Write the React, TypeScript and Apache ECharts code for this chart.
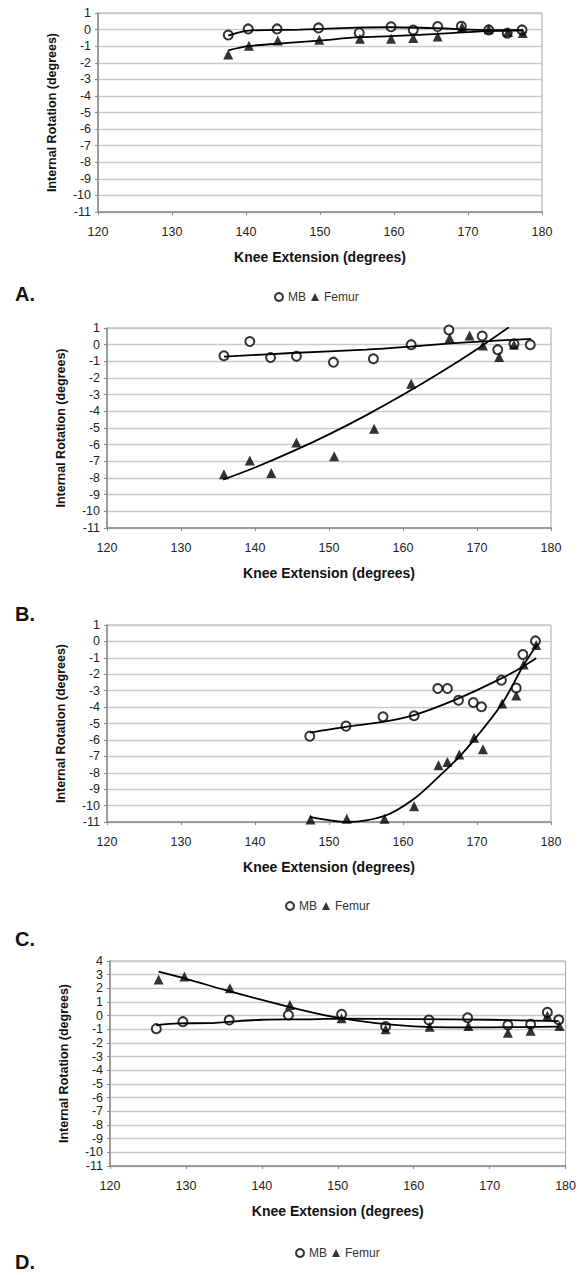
import React, { useEffect, useRef } from "react";
import * as echarts from "echarts";

// ---- Data (x = knee extension deg, y = internal rotation deg) ----
const A_MB: [number, number][] = [[137.6,-0.33],[140.3,0.04],[144.2,0.04],[149.8,0.1],[155.3,-0.2],[159.6,0.17],[162.6,-0.03],[165.9,0.18],[169.1,0.2],[172.8,-0.02],[175.3,-0.22],[177.3,-0.02]];
const A_FEMUR: [number, number][] = [[137.6,-1.5],[140.4,-0.98],[144.3,-0.66],[149.9,-0.62],[155.4,-0.55],[159.6,-0.55],[162.6,-0.5],[165.9,-0.42],[169.2,0.15],[172.8,0.02],[175.4,-0.15],[177.4,-0.2]];
const A_MB_TREND: [number, number][] = [[137.6,-0.36],[140.3,-0.06],[147.3,0.0],[155.0,0.12],[159.5,0.14],[165.8,0.08],[173.0,-0.04],[177.3,-0.04]];
const A_FEMUR_TREND: [number, number][] = [[137.6,-1.25],[140.3,-1.0],[144.3,-0.85],[149.9,-0.66],[155.4,-0.46],[159.5,-0.4],[165.9,-0.26],[173.0,-0.08],[177.4,-0.05]];

const B_MB: [number, number][] = [[135.8,-0.67],[139.3,0.19],[142.1,-0.77],[145.6,-0.7],[150.6,-1.05],[156.0,-0.85],[161.1,0.0],[166.2,0.88],[170.7,0.52],[172.8,-0.3],[175.0,0.05],[177.2,0.0]];
const B_FEMUR: [number, number][] = [[135.8,-7.77],[139.3,-6.95],[142.2,-7.7],[145.6,-5.87],[150.7,-6.7],[156.1,-5.05],[161.1,-2.35],[166.3,0.4],[169.0,0.55],[170.8,-0.05],[173.0,-0.74],[175.0,0.0]];
const B_MB_TREND: [number, number][] = [[135.8,-0.72],[145.0,-0.5],[155.0,-0.3],[161.0,-0.12],[166.0,0.06],[171.0,0.2],[177.3,0.35]];
const B_FEMUR_TREND: [number, number][] = [[135.7,-8.1],[140.0,-7.37],[145.0,-6.42],[150.0,-5.38],[155.0,-4.24],[160.0,-3.01],[165.0,-1.69],[170.0,-0.27],[174.3,1.04]];

const C_MB: [number, number][] = [[147.4,-5.77],[152.3,-5.16],[157.3,-4.59],[161.5,-4.53],[164.7,-2.87],[166.0,-2.87],[167.5,-3.58],[169.5,-3.72],[170.6,-3.98],[173.3,-2.36],[175.3,-2.84],[176.2,-0.8],[177.9,0.03]];
const C_FEMUR: [number, number][] = [[147.5,-10.85],[152.4,-10.8],[157.5,-10.8],[161.5,-10.04],[164.8,-7.54],[166.0,-7.34],[167.6,-6.89],[169.6,-5.87],[170.8,-6.57],[173.4,-3.78],[175.3,-3.3],[176.3,-1.4],[178.0,-0.22]];
const C_MB_TREND: [number, number][] = [[147.4,-5.55],[152.3,-5.2],[157.3,-4.9],[161.5,-4.49],[167.5,-3.47],[173.3,-2.25],[176.2,-1.54],[178.0,-1.03]];
const C_FEMUR_TREND: [number, number][] = [[147.4,-10.69],[152.4,-11.0],[157.5,-10.63],[161.5,-9.58],[164.8,-8.25],[167.6,-7.03],[169.6,-6.0],[173.4,-3.78],[176.3,-1.44],[178.1,-0.22]];

const D_MB: [number, number][] = [[126.1,-0.95],[129.6,-0.44],[135.7,-0.32],[143.5,0.05],[150.5,0.1],[156.3,-0.8],[162.0,-0.32],[167.1,-0.15],[172.4,-0.68],[175.4,-0.63],[177.6,0.24],[179.1,-0.3]];
const D_FEMUR: [number, number][] = [[126.4,2.65],[129.8,2.87],[135.8,2.0],[143.7,0.78],[150.5,-0.19],[156.3,-1.0],[162.1,-0.82],[167.2,-0.75],[172.4,-1.25],[175.4,-1.1],[177.6,0.0],[179.2,-0.75]];
const D_MB_TREND: [number, number][] = [[126.1,-0.7],[129.0,-0.56],[133.3,-0.55],[135.6,-0.45],[140.0,-0.3],[145.7,-0.27],[150.0,-0.22],[160.0,-0.25],[170.0,-0.3],[179.1,-0.4]];
const D_FEMUR_TREND: [number, number][] = [[126.4,3.22],[130.0,2.7],[135.0,1.9],[140.0,1.15],[145.0,0.45],[150.0,-0.15],[155.0,-0.55],[160.0,-0.78],[165.0,-0.85],[170.0,-0.85],[179.2,-0.8]];

const PANEL_LABELS = ["A.", "B.", "C.", "D."];
const X_MIN = 120;
const X_MAX = 180;
const X_INTERVAL = 10;
const Y_MIN = -11;
const Y_MAX_ABC = 1;
const Y_MAX_D = 4;
const X_TITLE = "Knee Extension (degrees)";
const Y_TITLE = "Internal Rotation (degrees)";
const SERIES_NAMES = ["MB", "Femur"];

const FONT = "'Liberation Sans', Arial, Helvetica, sans-serif";

export default function App() {
  const ref = useRef<HTMLDivElement>(null);

  useEffect(() => {
    if (!ref.current) return;
    const chart = echarts.init(ref.current, undefined, { renderer: "svg" });

    const panels = [
      { mb: A_MB, femur: A_FEMUR, mbT: A_MB_TREND, feT: A_FEMUR_TREND, yMax: Y_MAX_ABC,
        grid: { left: 98, top: 13, width: 444, height: 199 }, legendLeft: 274, legendTop: 291, labelY: 295, legend: true },
      { mb: B_MB, femur: B_FEMUR, mbT: B_MB_TREND, feT: B_FEMUR_TREND, yMax: Y_MAX_ABC,
        grid: { left: 107, top: 328, width: 444, height: 200 }, legendLeft: 0, legendTop: 0, labelY: 615, legend: false },
      { mb: C_MB, femur: C_FEMUR, mbT: C_MB_TREND, feT: C_FEMUR_TREND, yMax: Y_MAX_ABC,
        grid: { left: 107, top: 625, width: 444, height: 197 }, legendLeft: 285, legendTop: 900, labelY: 940, legend: true },
      { mb: D_MB, femur: D_FEMUR, mbT: D_MB_TREND, feT: D_FEMUR_TREND, yMax: Y_MAX_D,
        grid: { left: 110, top: 961, width: 456, height: 205 }, legendLeft: 295, legendTop: 1247, labelY: 1263, legend: true },
    ];

    const grids: any[] = [];
    const xAxes: any[] = [];
    const yAxes: any[] = [];
    const series: any[] = [];
    const legends: any[] = [];
    const graphics: any[] = [];

    panels.forEach((p, i) => {
      grids.push({
        ...p.grid,
        show: true,
        borderColor: "#a6a6a6",
        borderWidth: 1,
        backgroundColor: "#ffffff",
      });
      xAxes.push({
        type: "value",
        gridIndex: i,
        min: X_MIN,
        max: X_MAX,
        interval: X_INTERVAL,
        name: X_TITLE,
        nameLocation: "middle",
        nameGap: 38,
        nameTextStyle: { fontFamily: FONT, fontWeight: "bold", fontSize: 14, color: "#111" },
        axisLine: { show: true, onZero: false, lineStyle: { color: "#8a8a8a", width: 1.5 } },
        axisTick: { show: true, length: 3, inside: false, lineStyle: { color: "#8a8a8a" } },
        axisLabel: { fontFamily: FONT, fontSize: 12.5, color: "#222", margin: 13 },
        splitLine: { show: false },
      });
      yAxes.push({
        type: "value",
        gridIndex: i,
        min: Y_MIN,
        max: p.yMax,
        interval: 1,
        name: Y_TITLE,
        nameLocation: "middle",
        nameGap: 40,
        nameTextStyle: { fontFamily: FONT, fontWeight: "bold", fontSize: 12.5, color: "#111" },
        axisLine: { show: true, onZero: false, lineStyle: { color: "#8a8a8a", width: 1.5 } },
        axisTick: { show: true, length: 3, inside: false, lineStyle: { color: "#8a8a8a" } },
        axisLabel: { fontFamily: FONT, fontSize: 12.5, color: "#222", margin: 7 },
        splitLine: { show: true, lineStyle: { color: "#c9c9c9", width: 1.4 } },
      });
      series.push({
        name: "MB trend",
        type: "line",
        xAxisIndex: i,
        yAxisIndex: i,
        data: p.mbT,
        smooth: 0.3,
        showSymbol: false,
        symbol: "none",
        lineStyle: { color: "#000", width: 1.8 },
        z: 4,
      });
      series.push({
        name: "Femur trend",
        type: "line",
        xAxisIndex: i,
        yAxisIndex: i,
        data: p.feT,
        smooth: 0.3,
        showSymbol: false,
        symbol: "none",
        lineStyle: { color: "#000", width: 1.8 },
        z: 4,
      });
      series.push({
        name: SERIES_NAMES[0],
        type: "scatter",
        xAxisIndex: i,
        yAxisIndex: i,
        data: p.mb,
        symbol: "emptyCircle",
        symbolSize: 9,
        itemStyle: { color: "#000", borderColor: "#000", borderWidth: 1.2 },
        z: 3,
      });
      series.push({
        name: SERIES_NAMES[1],
        type: "scatter",
        xAxisIndex: i,
        yAxisIndex: i,
        data: p.femur,
        symbol: "triangle",
        symbolSize: 10,
        itemStyle: { color: "#000" },
        z: 3,
      });
      if (p.legend) {
        legends.push({
          data: SERIES_NAMES,
          left: p.legendLeft,
          top: p.legendTop,
          orient: "horizontal",
          itemWidth: 8,
          itemHeight: 8,
          itemGap: 5,
          padding: 0,
          textStyle: { fontFamily: FONT, fontSize: 12, color: "#333" },
        });
      }
      graphics.push({
        type: "text",
        left: 15,
        top: p.labelY - 11,
        style: {
          text: PANEL_LABELS[i],
          font: `bold 20px ${FONT}`,
          fill: "#111",
        },
      });
    });

    chart.setOption({
      animation: false,
      backgroundColor: "#ffffff",
      grid: grids,
      xAxis: xAxes,
      yAxis: yAxes,
      series,
      legend: legends,
      graphic: graphics,
    });

    return () => chart.dispose();
  }, []);

  return (
    <div
      ref={ref}
      style={{ position: "absolute", left: 0, top: 0, width: 579, height: 1276 }}
    />
  );
}
